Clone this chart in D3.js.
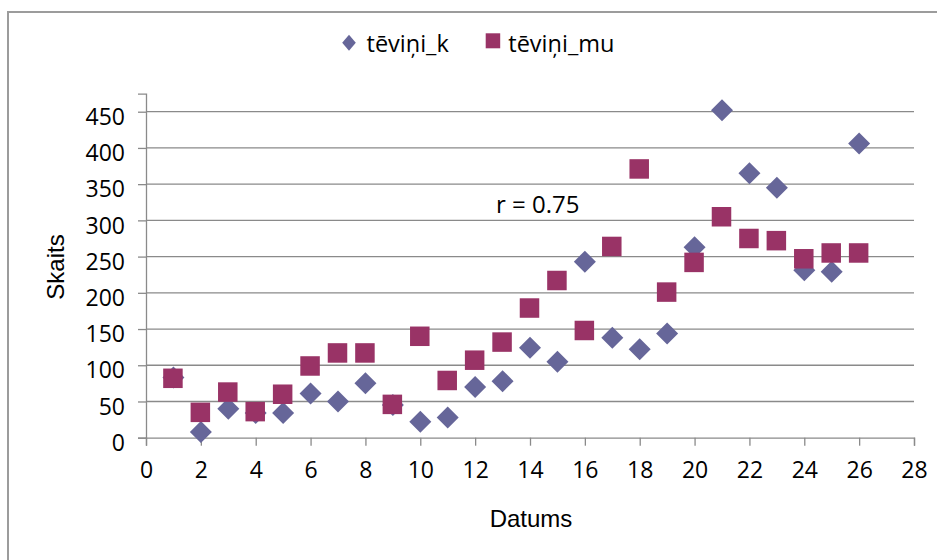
<!DOCTYPE html>
<html>
<head>
<meta charset="utf-8">
<script src="https://cdn.jsdelivr.net/npm/d3@7"></script>
<style>
  html, body { margin: 0; padding: 0; background: #fff; }
  svg { display: block; }
</style>
</head>
<body>
<svg id="chart" width="937" height="560"></svg>
<script>
// Day numbers (Datums) and counts (Skaits) for the two series
const days = [1, 2, 3, 4, 5, 6, 7, 8, 9, 10, 11, 12, 13, 14, 15, 16, 17, 18, 19, 20, 21, 22, 23, 24, 25, 26];
const teviniK = [83, 8, 40, 34, 34, 61, 50, 75, 45, 22, 28, 70, 78, 124, 105, 243, 138, 122, 144, 263, 452, 365, 345, 231, 229, 406];
const teviniMu = [82, 35, 63, 36, 60, 99, 117, 117, 46, 140, 79, 107, 132, 179, 217, 148, 264, 371, 201, 242, 305, 275, 272, 247, 255, 255];
const xTicks = [0, 2, 4, 6, 8, 10, 12, 14, 16, 18, 20, 22, 24, 26, 28];
const yTicks = [0, 50, 100, 150, 200, 250, 300, 350, 400, 450];
const seriesNames = ["tēviņi_k", "tēviņi_mu"];
const corrLabel = "r = 0.75";

const colK = "#666699";
const colMu = "#993366";
const gridCol = "#8a8a8a";
const sansFont = "'Open Sans', sans-serif";
const labelFont = "'Liberation Sans', Arial, sans-serif";

const svg = d3.select("#chart");

// outer chart frame
svg.append("rect")
  .attr("x", 8).attr("y", 12)
  .attr("width", 960).attr("height", 600)
  .attr("fill", "#fff")
  .attr("stroke", "#9c9c9c")
  .attr("stroke-width", 2);

const x = d3.scaleLinear().domain([0, 28]).range([146, 914]);
const y = d3.scaleLinear().domain([0, 475]).range([437.7, 93.6]);

// horizontal gridlines
svg.append("g")
  .selectAll("line")
  .data(yTicks.filter(d => d > 0))
  .join("line")
  .attr("x1", x(0)).attr("x2", x(28))
  .attr("y1", d => y(d)).attr("y2", d => y(d))
  .attr("stroke", gridCol)
  .attr("stroke-width", 1.3);

// y axis
const yAxis = svg.append("g")
  .attr("transform", `translate(${x(0)},0)`)
  .call(d3.axisLeft(y).tickValues(yTicks).tickSize(8).tickPadding(13));
yAxis.select(".domain").attr("stroke", gridCol).attr("stroke-width", 1.3);
yAxis.selectAll(".tick line").attr("stroke", gridCol).attr("stroke-width", 1.3);
yAxis.selectAll(".tick text")
  .attr("font-family", sansFont)
  .attr("font-size", 23)
  .attr("fill", "#000")
  .attr("dy", "0.55em");

// x axis
const xAxis = svg.append("g")
  .attr("transform", `translate(0,${y(0)})`)
  .call(d3.axisBottom(x).tickValues(xTicks).tickSize(8).tickPadding(16));
xAxis.select(".domain").attr("stroke", gridCol).attr("stroke-width", 1.3);
xAxis.selectAll(".tick line").attr("stroke", gridCol).attr("stroke-width", 1.3);
xAxis.selectAll(".tick text")
  .attr("font-family", sansFont)
  .attr("font-size", 23)
  .attr("fill", "#000");

// series markers: diamonds first, squares drawn over them
const diamond = (cx, cy, hw, hh) =>
  `M${cx},${cy - hh}L${cx + hw},${cy}L${cx},${cy + hh}L${cx - hw},${cy}Z`;

svg.append("g")
  .selectAll("path")
  .data(days.map((d, i) => [d, teviniK[i]]))
  .join("path")
  .attr("d", d => diamond(x(d[0]), y(d[1]), 11, 11))
  .attr("fill", colK);

const sq = 19.5;
svg.append("g")
  .selectAll("rect")
  .data(days.map((d, i) => [d, teviniMu[i]]))
  .join("rect")
  .attr("x", d => x(d[0]) - sq / 2 - 0.5)
  .attr("y", d => y(d[1]) - sq / 2)
  .attr("width", sq).attr("height", sq)
  .attr("fill", colMu);

// correlation note
svg.append("text")
  .attr("x", 496).attr("y", 213)
  .attr("font-family", sansFont)
  .attr("font-size", 24)
  .attr("fill", "#000")
  .text(corrLabel);

// axis titles
svg.append("text")
  .attr("x", 531).attr("y", 527)
  .attr("text-anchor", "middle")
  .attr("font-family", labelFont)
  .attr("font-size", 24)
  .attr("fill", "#000")
  .text("Datums");

svg.append("text")
  .attr("transform", "translate(64,267) rotate(-90)")
  .attr("text-anchor", "middle")
  .attr("font-family", labelFont)
  .attr("font-size", 24)
  .attr("fill", "#000")
  .text("Skaits");

// legend
const legend = svg.append("g");
legend.append("path")
  .attr("d", diamond(349, 42.7, 6.8, 8))
  .attr("fill", colK);
legend.append("text")
  .attr("x", 366.5).attr("y", 51.7)
  .attr("font-family", sansFont)
  .attr("font-size", 23.5)
  .attr("fill", "#000")
  .text(seriesNames[0]);
legend.append("rect")
  .attr("x", 485.7).attr("y", 33.3)
  .attr("width", 14.5).attr("height", 15)
  .attr("fill", colMu);
legend.append("text")
  .attr("x", 508.3).attr("y", 51.7)
  .attr("font-family", sansFont)
  .attr("font-size", 23.5)
  .attr("fill", "#000")
  .text(seriesNames[1]);
</script>
</body>
</html>
